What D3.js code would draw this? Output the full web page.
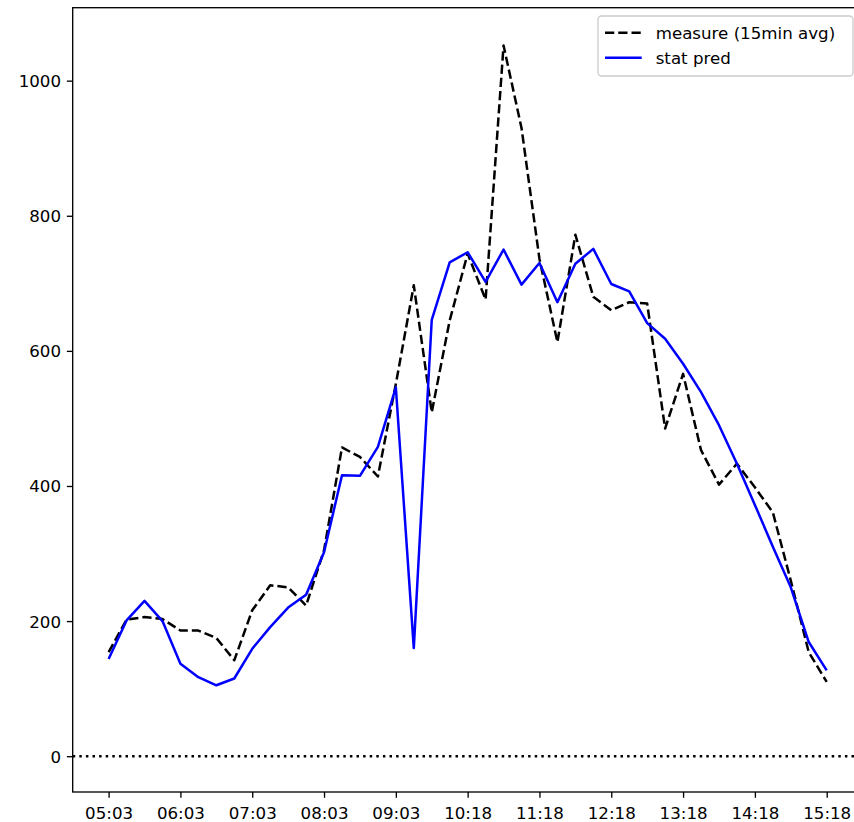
<!DOCTYPE html>
<html>
<head>
<meta charset="utf-8">
<script src="https://cdn.jsdelivr.net/npm/d3@7"></script>
<style>
html, body { margin: 0; padding: 0; background: #fff; overflow: hidden; }
svg { display: block; }
text { font-family: "DejaVu Sans", sans-serif; fill: #000; }
</style>
</head>
<body>
<svg id="chart" width="854" height="822"></svg>
<script>
// ---- data ----
const tickLabels = ["05:03","06:03","07:03","08:03","09:03","10:18","11:18","12:18","13:18","14:18","15:18"];
const measure = [154,202,206,203,186,186,175,142,216,253,250,223,305,457,443,414,551,697,509,645,744,676,1052,930,736,613,772,680,660,672,670,485,566,453,402,433,398,361,260,154,110];
const statPred = [144,201,230,200,137,117,105,115,159,191,220,239,302,416,415,458,546,160,646,731,746,702,750,698,730,672,729,751,699,688,641,618,581,539,490,433,372,310,250,169,127];
const yTicks = [0,200,400,600,800,1000];
const seriesNames = ["measure (15min avg)", "stat pred"];

// ---- layout ----
const svg = d3.select("#chart");
const L = 72.7, R = 862.6, T = 7.7, B = 792;
const n = measure.length;
const x = d3.scaleLinear().domain([-2, n + 1]).range([L, R]);
const y = d3.scaleLinear().domain([-53, 1108]).range([B, T]);
const fs = 16.67, tickLen = 5.83, lw = 2.5;

// zero line
svg.append("line")
  .attr("x1", L).attr("x2", R)
  .attr("y1", y(0)).attr("y2", y(0))
  .attr("stroke", "#000").attr("stroke-width", lw)
  .attr("stroke-dasharray", "2.5,4.1");

const line = d3.line().x((d, i) => x(i)).y(d => y(d));

svg.append("path").datum(measure)
  .attr("d", line).attr("fill", "none")
  .attr("stroke", "#000").attr("stroke-width", lw)
  .attr("stroke-dasharray", "9.25,4")
  .attr("stroke-linejoin", "round");

svg.append("path").datum(statPred)
  .attr("d", line).attr("fill", "none")
  .attr("stroke", "#0000ff").attr("stroke-width", lw)
  .attr("stroke-linejoin", "round").attr("stroke-linecap", "butt");

// axes
const xTickVals = tickLabels.map((d, i) => i * 4);
const xAxis = d3.axisBottom(x).tickValues(xTickVals)
  .tickFormat((d, i) => tickLabels[i]).tickSize(tickLen).tickPadding(5.83);
const gx = svg.append("g").attr("transform", `translate(0,${B})`).call(xAxis);
gx.select(".domain").remove();
gx.selectAll(".tick line").attr("stroke", "#000").attr("stroke-width", 1.33);
gx.selectAll(".tick text").attr("font-size", fs).attr("font-family", "DejaVu Sans")
  .attr("dy", null).attr("y", 0).attr("transform", `translate(0,${26.5})`);

const yAxis = d3.axisLeft(y).tickValues(yTicks).tickFormat(d3.format("d"))
  .tickSize(tickLen).tickPadding(5.83);
const gy = svg.append("g").attr("transform", `translate(${L},0)`).call(yAxis);
gy.select(".domain").remove();
gy.selectAll(".tick line").attr("stroke", "#000").attr("stroke-width", 1.33);
gy.selectAll(".tick text").attr("font-size", fs).attr("font-family", "DejaVu Sans")
  .attr("dy", "0.36em");

// frame
svg.append("rect").attr("x", L).attr("y", T).attr("width", R - L).attr("height", B - T)
  .attr("fill", "none").attr("stroke", "#000").attr("stroke-width", 1.33);

// legend
const lg = svg.append("g");
lg.append("rect").attr("x", 598).attr("y", 16).attr("width", 255).attr("height", 60)
  .attr("rx", 3.5).attr("fill", "#fff").attr("fill-opacity", 0.8)
  .attr("stroke", "#cccccc").attr("stroke-width", 1.33);
const rows = [
  {name: seriesNames[0], color: "#000", dash: "9.25,4", yy: 32.7},
  {name: seriesNames[1], color: "#0000ff", dash: null, yy: 57.7}
];
rows.forEach(r => {
  lg.append("line").attr("x1", 605).attr("x2", 641.7).attr("y1", r.yy).attr("y2", r.yy)
    .attr("stroke", r.color).attr("stroke-width", lw)
    .attr("stroke-dasharray", r.dash);
  lg.append("text").attr("x", 655.7).attr("y", r.yy + 5.8)
    .attr("font-size", fs).text(r.name);
});
</script>
</body>
</html>
